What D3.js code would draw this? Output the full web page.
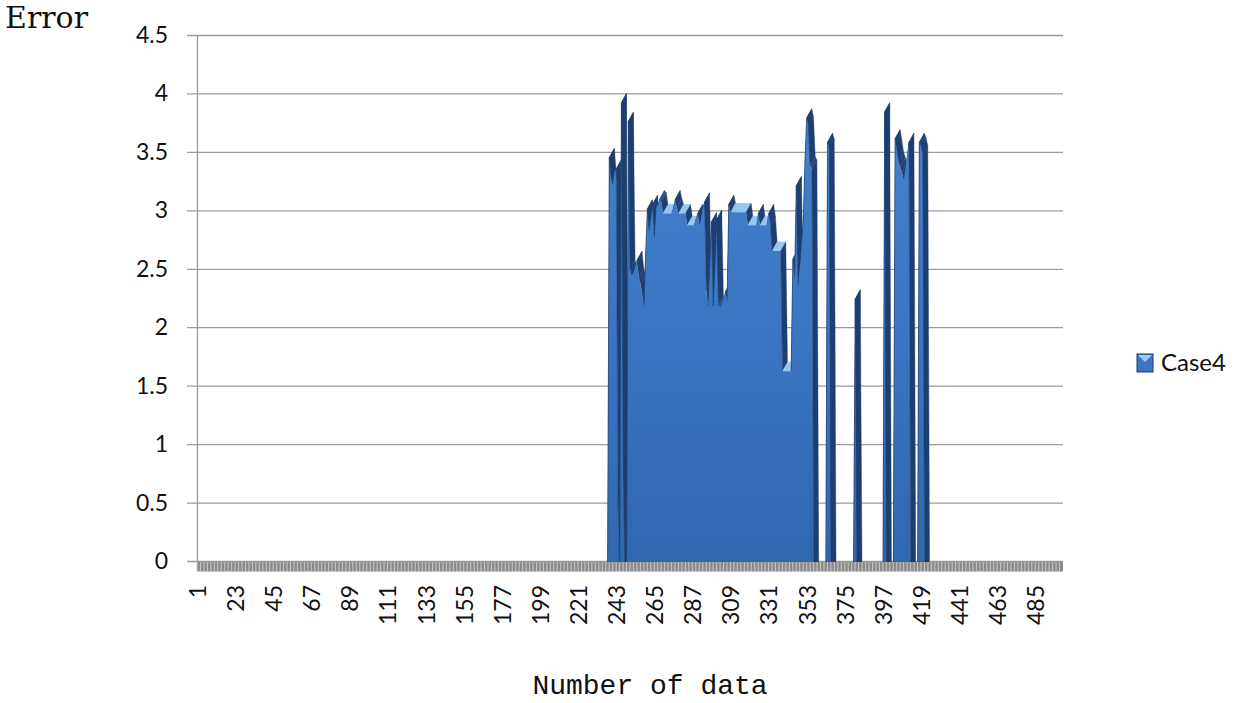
<!DOCTYPE html>
<html><head><meta charset="utf-8">
<script src="https://cdnjs.cloudflare.com/ajax/libs/d3/7.8.5/d3.min.js"></script>
<style>body{margin:0;background:#fff;} svg{display:block}</style>
</head><body>
<svg id="chart" width="1235" height="703"></svg>
<script>
// ---------------- data ----------------
const categoryCount = 500;
const xTickLabels = [1,23,45,67,89,111,133,155,177,199,221,243,265,287,309,331,353,375,397,419,441,463,485];
const yTickValues = [0,0.5,1,1.5,2,2.5,3,3.5,4,4.5];
const seriesName = "Case4";
const yAxisTitle = "Error";
const xAxisTitle = "Number of data";
// values of Case4 starting at category 238; all other categories are 0
const case4FirstCategory = 238;
const case4Values = [
  0, 0, 3.53, 3.35, 3.29, 3.40, 3.43, 0.6, 0, 4.0,          // 238-247
  1.0, 0, 0, 3.84, 2.57, 2.52, 2.54, 2.6, 2.65, 2.5,        // 248-257
  2.45, 2.35, 2.25, 2.7, 3.09, 2.9, 3.0, 3.13, 2.85, 3.1,   // 258-267
  3.12, 3.17, 3.15, 3.05, 3.05, 3.05, 3.05, 3.05, 3.05, 3.1,// 268-277
  3.17, 3.1, 3.05, 3.05, 3.05, 3.05, 3.05, 2.95, 2.95, 2.95,// 278-287
  2.95, 2.95, 3.0, 3.05, 2.95, 3.0, 3.1, 3.15, 2.4, 2.26,   // 288-297
  2.6, 2.98, 2.26, 2.6, 3.0, 2.26, 2.24, 2.28, 2.32, 2.38,  // 298-307
  2.3, 3.13, 3.06, 3.06, 3.06, 3.06, 3.06, 3.06, 3.06, 3.06,// 308-317
  3.06, 3.06, 2.95, 2.95, 2.95, 2.95, 2.95, 2.95, 3.05, 2.95,// 318-327
  2.95, 2.95, 2.95, 2.95, 3.05, 2.95, 2.73, 2.73, 2.73, 2.73,// 328-337
  2.73, 2.73, 1.70, 1.70, 1.70, 1.70, 1.70, 1.70, 2.66, 2.5,// 338-347
  3.29, 2.43, 2.6, 2.8, 3.0, 3.5, 3.87, 3.8, 3.46, 3.43,    // 348-357
  0, 0, 0, 0, 0, 0, 0, 0, 3.66, 3.61,                       // 358-367
  0, 0, 0, 0, 0, 0, 0, 0, 0, 0,                             // 368-377
  0, 0, 0, 0, 2.32, 0, 0, 0, 0, 0,                          // 378-387
  0, 0, 0, 0, 0, 0, 0, 0, 0, 0,                             // 388-397
  0, 3.92, 0, 0, 0, 0, 0, 3.69, 3.6, 3.5,                   // 398-407
  3.45, 3.40, 3.33, 3.43, 3.55, 3.66, 0, 0, 0, 0,           // 408-417
  0, 3.66, 3.62, 3.55, 0                                    // 418-422
];

// ---------------- chart ----------------
(function () {
const svg = d3.select("#chart");
const categories = d3.range(1, categoryCount + 1);
const valueOf = c => {
  const i = c - case4FirstCategory;
  return (i >= 0 && i < case4Values.length) ? case4Values[i] : 0;
};
const data = categories.map(c => ({ c, v: valueOf(c) }));

const plotLeft = 197, plotRight = 1063, plotTop = 35, plotBottom = 561;
const x = d3.scalePoint().domain(categories).range([plotLeft, plotRight]).padding(0.5);
const y = d3.scaleLinear().domain([0, 4.5]).range([plotBottom, plotTop]);
const step = x.step();

// 3D depth (front face is shifted down-left of the back wall values)
const FX = -2.5, FY = 9, BX = 2.5, BY = 0;

const defs = svg.append("defs");
const grad = defs.append("linearGradient").attr("id", "frontGrad")
  .attr("gradientUnits", "userSpaceOnUse")
  .attr("x1", 0).attr("y1", y(4.5)).attr("x2", 0).attr("y2", y(0));
grad.append("stop").attr("offset", "0%").attr("stop-color", "#4786d2");
grad.append("stop").attr("offset", "55%").attr("stop-color", "#3a76c2");
grad.append("stop").attr("offset", "100%").attr("stop-color", "#3068b0");

// gridlines + tick stubs
svg.append("g").selectAll("line").data(yTickValues).join("line")
  .attr("x1", plotLeft - 10).attr("x2", plotRight)
  .attr("y1", d => y(d) + 0.5).attr("y2", d => y(d) + 0.5)
  .attr("stroke", "#9a9a9a").attr("stroke-width", 1.3);

// vertical axis line
svg.append("line").attr("x1", plotLeft + 0.5).attr("x2", plotLeft + 0.5)
  .attr("y1", plotTop).attr("y2", plotBottom + 1)
  .attr("stroke", "#9a9a9a").attr("stroke-width", 1.3);

// y tick labels
svg.append("g").selectAll("text").data(yTickValues).join("text")
  .attr("x", 168).attr("y", d => y(d)).attr("dy", "0.35em")
  .attr("text-anchor", "end")
  .style("font-family", "Lato, 'Open Sans', sans-serif").style("font-size", "23px")
  .attr("fill", "#111")
  .text(d => String(d));

// top/side surfaces of the 3D area
const colorAt = d3.interpolateRgb("#92c4f1", "#1f3e70");
const quads = [];
for (let i = 0; i < data.length - 1; i++) {
  const a = data[i], b = data[i + 1];
  if (a.v === 0 && b.v === 0) continue;
  const fa = [x(a.c) + FX, y(a.v) + FY], fb = [x(b.c) + FX, y(b.v) + FY];
  const ba = [x(a.c) + BX, y(a.v) + BY], bb = [x(b.c) + BX, y(b.v) + BY];
  const dxp = fb[0] - fa[0], dyp = fb[1] - fa[1];
  const s = Math.abs(dyp) / Math.hypot(dxp, dyp);
  quads.push({ pts: [fa, fb, bb, ba], t: Math.pow(s, 0.8) });
}
svg.append("g").selectAll("path").data(quads).join("path")
  .attr("d", q => "M" + q.pts.map(p => p.join(",")).join("L") + "Z")
  .attr("fill", q => colorAt(q.t))
  .attr("stroke", q => colorAt(q.t)).attr("stroke-width", 0.4);

// front face
const frontArea = d3.area()
  .x(d => x(d.c) + FX)
  .y0(y(0) + FY)
  .y1(d => y(d.v) + FY);
svg.append("path").datum(data).attr("d", frontArea).attr("fill", "url(#frontGrad)");

// dark edges on steep front segments
const edges = [];
for (let i = 0; i < data.length - 1; i++) {
  const a = data[i], b = data[i + 1];
  if (a.v === 0 && b.v === 0) continue;
  const dyp = Math.abs(y(b.v) - y(a.v));
  if (dyp > 20) edges.push([a, b]);
}
svg.append("g").selectAll("line").data(edges).join("line")
  .attr("x1", e => x(e[0].c) + FX).attr("y1", e => y(e[0].v) + FY)
  .attr("x2", e => x(e[1].c) + FX).attr("y2", e => y(e[1].v) + FY)
  .attr("stroke", "#1f3e70").attr("stroke-width", 0.8).attr("stroke-opacity", 0.7);

// floor strip with tick separators
svg.append("rect").attr("x", plotLeft).attr("y", plotBottom + 1).attr("width", plotRight - plotLeft).attr("height", 9.5)
  .attr("fill", "#8c8c8c");
svg.append("g").selectAll("line").data(categories.filter(c => c % 2 === 1)).join("line")
  .attr("x1", c => x(c) - step / 2).attr("x2", c => x(c) - step / 2)
  .attr("y1", plotBottom + 1).attr("y2", plotBottom + 10.5)
  .attr("stroke", "#d6d6d6").attr("stroke-width", 0.8);

// x tick labels (rotated)
svg.append("g").selectAll("text").data(xTickLabels).join("text")
  .attr("transform", d => `translate(${x(d)},585) rotate(-90)`)
  .attr("dy", "0.35em").attr("text-anchor", "end")
  .style("font-family", "Lato, 'Open Sans', sans-serif").style("font-size", "23px")
  .attr("fill", "#111")
  .text(d => String(d));

// axis titles
svg.append("text").attr("x", 5).attr("y", 28)
  .style("font-family", "'DejaVu Serif', serif").style("font-size", "30px")
  .attr("fill", "#111").text(yAxisTitle);
svg.append("text").attr("x", 650).attr("y", 694).attr("text-anchor", "middle")
  .style("font-family", "'Liberation Mono', monospace").style("font-size", "28px")
  .attr("fill", "#111").text(xAxisTitle);

// legend
const lg = svg.append("g");
lg.append("rect").attr("x", 1137).attr("y", 354).attr("width", 16).attr("height", 18)
  .attr("fill", "#3a76c2").attr("stroke", "#1d3b6b").attr("stroke-width", 1);
lg.append("polygon").attr("points", "1138,355 1152,355 1145,362").attr("fill", "#9bcaf3");
lg.append("text").attr("x", 1161).attr("y", 363).attr("dy", "0.35em")
  .style("font-family", "Lato, 'Open Sans', sans-serif").style("font-size", "24px")
  .attr("fill", "#111").text(seriesName);
})();
</script>
</body></html>
